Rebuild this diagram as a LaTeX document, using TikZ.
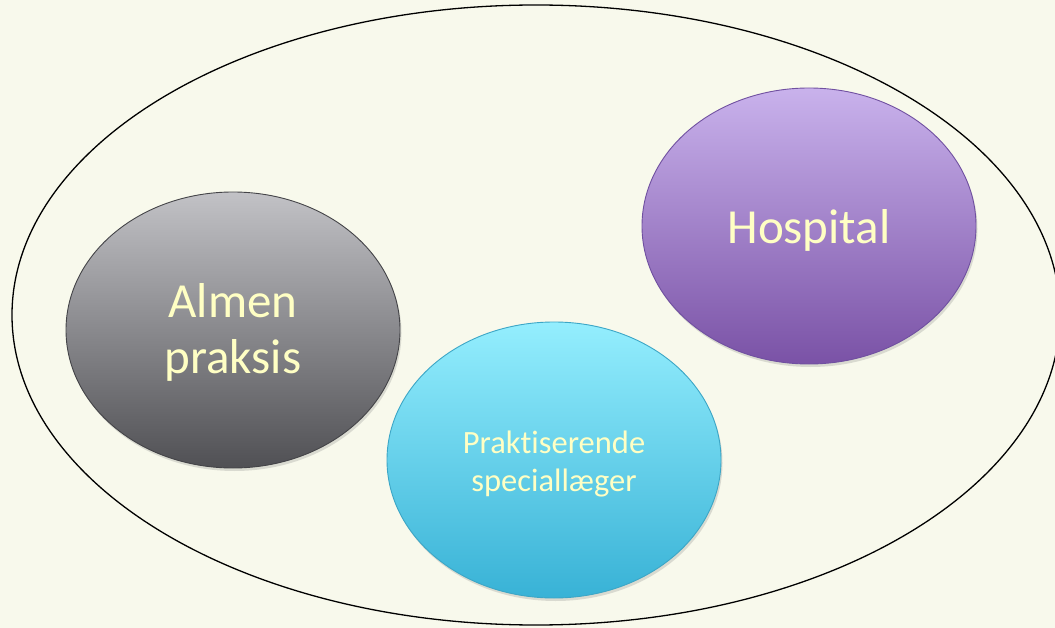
\documentclass[tikz,border=0pt]{standalone}
\usepackage{fontspec}
\setmainfont[Ligatures=NoCommon]{Carlito}
\usetikzlibrary{shapes.geometric,shadows}
\definecolor{bg}{HTML}{F8F9EC}
\definecolor{txt}{HTML}{FFFFC4}
\definecolor{grayTop}{HTML}{C2C2C6}
\definecolor{grayBot}{HTML}{505054}
\definecolor{grayLine}{HTML}{444448}
\definecolor{cyanTop}{HTML}{94EEFE}
\definecolor{cyanBot}{HTML}{38B2D6}
\definecolor{cyanLine}{HTML}{3CA6C6}
\definecolor{purpTop}{HTML}{C9B2EC}
\definecolor{purpBot}{HTML}{7A52A6}
\definecolor{purpLine}{HTML}{7050A0}
\begin{document}
\begin{tikzpicture}[x=1pt,y=-1pt,
  blob/.style={ellipse, minimum width=334pt, minimum height=276pt, inner sep=0pt,
    align=center, text=txt, line width=0.9pt,
    drop shadow={opacity=0.25, shadow xshift=1.5pt, shadow yshift=-3pt}},
  bigtext/.style={font=\fontsize{49}{56}\selectfont},
  smalltext/.style={font=\fontsize{32.5}{38}\selectfont},
]
\fill[bg] (0,0) rectangle (1055,628);
\useasboundingbox (0,0) rectangle (1055,628);
\node[ellipse, draw=black, line width=1.3pt, minimum width=1048pt, minimum height=620pt, inner sep=0pt] (outer) at (536,315) {};
\node[blob, top color=grayTop, bottom color=grayBot, draw=grayLine] (almen) at (233,330) {};
\node[blob, top color=cyanTop, bottom color=cyanBot, draw=cyanLine] (special) at (554,460) {};
\node[blob, top color=purpTop, bottom color=purpBot, draw=purpLine] (hosp) at (809,226) {};
\node[bigtext, text=txt, align=center, inner sep=0pt] (almenlbl) at ([yshift=-2pt]almen.center) {Almen\\praksis};
\node[smalltext, text=txt, align=center, inner sep=0pt] (speciallbl) at ([yshift=-4pt]special.center) {Praktiserende\\speciallæger};
\node[bigtext, text=txt, align=center, inner sep=0pt] (hosplbl) at ([yshift=-4pt]hosp.center) {Hospital};
\end{tikzpicture}
\end{document}
